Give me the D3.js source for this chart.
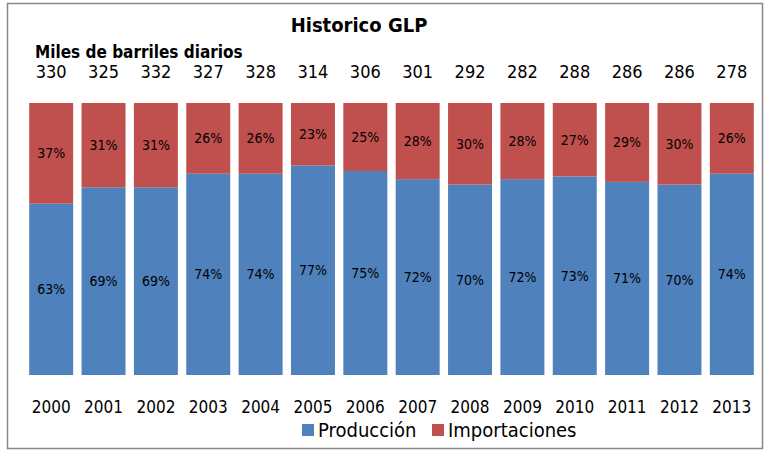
<!DOCTYPE html>
<html>
<head>
<meta charset="utf-8">
<script src="https://cdn.jsdelivr.net/npm/d3@7"></script>
<style>
  body { margin: 0; background: #fff; }
  text { font-family: "Liberation Sans Narrow", "DejaVu Sans Condensed", sans-serif; fill: #000; }
</style>
</head>
<body>
<svg id="chart" width="765" height="453"></svg>
<script>
'use strict';

var years = ["2000", "2001", "2002", "2003", "2004", "2005", "2006", "2007", "2008", "2009", "2010", "2011", "2012", "2013"];
var totals = [330, 325, 332, 327, 328, 314, 306, 301, 292, 282, 288, 286, 286, 278];
var produccion = [63, 69, 69, 74, 74, 77, 75, 72, 70, 72, 73, 71, 70, 74];
var importaciones = [37, 31, 31, 26, 26, 23, 25, 28, 30, 28, 27, 29, 30, 26];
var seriesNames = ["Producción", "Importaciones"];
var colors = ["#4f81bd", "#c0504d"];

var svg = d3.select("#chart");

// outer frame
svg.append("rect")
    .attr("x", 7.5).attr("y", 3.5)
    .attr("width", 755).attr("height", 445)
    .attr("fill", "#fff")
    .attr("stroke", "#868686")
    .attr("stroke-width", 1.5);

var x = d3.scaleBand()
    .domain(years)
    .range([25, 758])
    .paddingInner(0.16)
    .paddingOuter(0.08);

var y = d3.scaleLinear()
    .domain([0, 100])
    .range([375, 103]);

var rows = years.map((yr, i) => {
    return { year: yr, total: totals[i], "Producción": produccion[i], "Importaciones": importaciones[i] };
});

var stack = d3.stack().keys(seriesNames);
var layers = stack(rows);

var layer = svg.selectAll(".layer")
    .data(layers)
    .enter().append("g")
    .attr("class", "layer")
    .attr("fill", (d, i) => { return colors[i]; });

layer.selectAll("rect")
    .data((d) => { return d; })
    .enter().append("rect")
    .attr("x", (d) => { return x(d.data.year); })
    .attr("y", (d) => { return y(d[1]); })
    .attr("width", x.bandwidth())
    .attr("height", (d) => { return y(d[0]) - y(d[1]); });

// percent labels in the middle of each segment
layer.selectAll("text")
    .data((d) => { return d; })
    .enter().append("text")
    .attr("x", (d) => { return x(d.data.year) + x.bandwidth() / 2; })
    .attr("y", (d) => { return (y(d[0]) + y(d[1])) / 2; })
    .attr("dy", "0.35em")
    .attr("text-anchor", "middle")
    .style("font-size", "14px")
    .text((d) => { return (d[1] - d[0]) + "%"; });

// totals above the bars
svg.append("g").selectAll("text")
    .data(rows)
    .enter().append("text")
    .attr("x", (d) => { return x(d.year) + x.bandwidth() / 2; })
    .attr("y", 78)
    .attr("text-anchor", "middle")
    .style("font-size", "18px")
    .text((d) => { return d.total; });

// category axis (labels only)
var xAxis = svg.append("g")
    .attr("transform", "translate(0,375)")
    .call(d3.axisBottom(x).tickSize(0).tickPadding(26));
xAxis.select(".domain").remove();
xAxis.selectAll("text")
    .style("font-size", "17px")
    .style("font-family", "\"Liberation Sans Narrow\", \"DejaVu Sans Condensed\", sans-serif");

// titles
svg.append("text")
    .attr("x", 359).attr("y", 32)
    .attr("text-anchor", "middle")
    .style("font-size", "20px")
    .style("font-weight", "bold")
    .text("Historico GLP");

svg.append("text")
    .attr("x", 35).attr("y", 58)
    .style("font-size", "17px")
    .style("font-weight", "bold")
    .text("Miles de barriles diarios");

// legend
var legendX = [302, 432];
var legend = svg.append("g").selectAll("g")
    .data(seriesNames)
    .enter().append("g")
    .attr("transform", (d, i) => { return "translate(" + legendX[i] + ",424)"; });

legend.append("rect")
    .attr("width", 12).attr("height", 12)
    .attr("fill", (d, i) => { return colors[i]; });

legend.append("text")
    .attr("x", 16).attr("y", 13)
    .style("font-size", "20px")
    .text((d) => { return d; });
</script>
</body>
</html>
